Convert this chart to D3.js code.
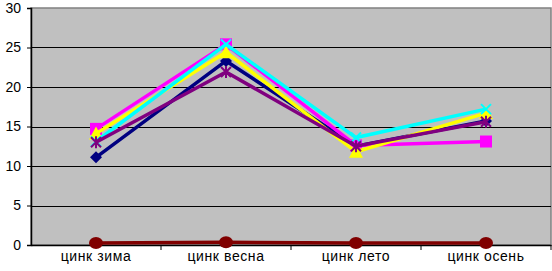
<!DOCTYPE html>
<html>
<head>
<meta charset="utf-8">
<script src="https://cdn.jsdelivr.net/npm/d3@7"></script>
<style>
  body { margin: 0; background: #fff; }
  text { font-family: "Liberation Sans", Arial, sans-serif; }
</style>
</head>
<body>
<div id="main"></div>
<script>
const categories = ["цинк зима", "цинк весна", "цинк лето", "цинк осень"];
const yTicks = [0, 5, 10, 15, 20, 25, 30];

const navySeries = [11.1, 23.3, 12.5, 15.7];
const magentaSeries = [14.7, 25.4, 12.6, 13.1];
const yellowSeries = [14.1, 24.4, 11.8, 16.7];
const cyanSeries = [13.1, 25.4, 13.6, 17.2];
const purpleSeries = [13.0, 21.9, 12.5, 15.6];
const redSeries = [0.25, 0.35, 0.25, 0.25];

const series = [
  { values: navySeries, color: "#000080", marker: "diamond" },
  { values: magentaSeries, color: "#ff00ff", marker: "square" },
  { values: yellowSeries, color: "#ffff00", marker: "triangle" },
  { values: cyanSeries, color: "#00ffff", marker: "x" },
  { values: purpleSeries, color: "#800080", marker: "star" },
  { values: redSeries, color: "#800000", marker: "circle" }
];

const width = 552;
const height = 271;
const margin = { top: 8, right: 1, bottom: 26, left: 31 };
const innerWidth = width - margin.left - margin.right;
const innerHeight = height - margin.top - margin.bottom;

const svg = d3.select("#main").append("svg")
  .attr("width", width)
  .attr("height", height);

const g = svg.append("g")
  .attr("transform", `translate(${margin.left},${margin.top})`);

const x = d3.scaleBand().domain(categories).range([0, innerWidth]);
const y = d3.scaleLinear().domain([0, 30]).range([innerHeight, 0]);

// plot background
g.append("rect")
  .attr("width", innerWidth)
  .attr("height", innerHeight)
  .attr("fill", "#c0c0c0")
  .attr("stroke", "#808080")
  .attr("stroke-width", 1.5);

// gridlines
g.selectAll(".grid")
  .data(yTicks.filter(d => d > 0 && d < 30))
  .enter()
  .append("line")
  .attr("x1", 0)
  .attr("x2", innerWidth)
  .attr("y1", d => Math.round(y(d)) + 0.5)
  .attr("y2", d => Math.round(y(d)) + 0.5)
  .attr("stroke", "#000")
  .attr("stroke-width", 1.2);

// y axis
const yAxis = g.append("g")
  .call(d3.axisLeft(y).tickValues(yTicks).tickSize(4).tickPadding(6));
yAxis.select(".domain").attr("stroke", "#000").attr("stroke-width", 1.5);
yAxis.selectAll("text").attr("font-size", 14).attr("fill", "#000");

// x axis
const xAxis = g.append("g")
  .attr("transform", `translate(0,${innerHeight})`)
  .call(d3.axisBottom(x).tickSize(0).tickPadding(6));
xAxis.select(".domain").attr("stroke", "#000").attr("stroke-width", 1.5);
xAxis.selectAll("text").attr("font-size", 14).attr("fill", "#000").attr("letter-spacing", 0.6);

g.append("g")
  .attr("transform", `translate(0,${innerHeight})`)
  .selectAll("line")
  .data(d3.range(1, categories.length + 1))
  .enter()
  .append("line")
  .attr("x1", d => x.step() * d)
  .attr("x2", d => x.step() * d)
  .attr("y1", 0)
  .attr("y2", 5)
  .attr("stroke", "#000");

const cx = d => x(d) + x.bandwidth() / 2;

const line = d3.line()
  .x((d, i) => cx(categories[i]))
  .y(d => y(d));

function drawMarker(sel, type, color) {
  if (type === "diamond") {
    sel.append("path").attr("d", "M0,-6L6,0L0,6L-6,0Z").attr("fill", color);
  } else if (type === "square") {
    sel.append("rect").attr("x", -6).attr("y", -6).attr("width", 12).attr("height", 12).attr("fill", color);
  } else if (type === "triangle") {
    sel.append("path").attr("d", "M0,-7L7,6L-7,6Z").attr("fill", color);
  } else if (type === "x") {
    sel.append("path").attr("d", "M-5,-5L5,5M5,-5L-5,5").attr("stroke", color).attr("stroke-width", 2);
  } else if (type === "star") {
    sel.append("path").attr("d", "M-5,-5L5,5M5,-5L-5,5M0,-6L0,6").attr("stroke", color).attr("stroke-width", 2);
  } else if (type === "circle") {
    sel.append("ellipse").attr("rx", 7).attr("ry", 6).attr("fill", color);
  }
}

series.forEach(s => {
  g.append("path")
    .datum(s.values)
    .attr("d", line)
    .attr("fill", "none")
    .attr("stroke", s.color)
    .attr("stroke-width", 3.5);

  g.selectAll(null)
    .data(s.values)
    .enter()
    .append("g")
    .attr("transform", (d, i) => `translate(${cx(categories[i])},${y(d)})`)
    .each(function () { drawMarker(d3.select(this), s.marker, s.color); });
});
</script>
</body>
</html>
